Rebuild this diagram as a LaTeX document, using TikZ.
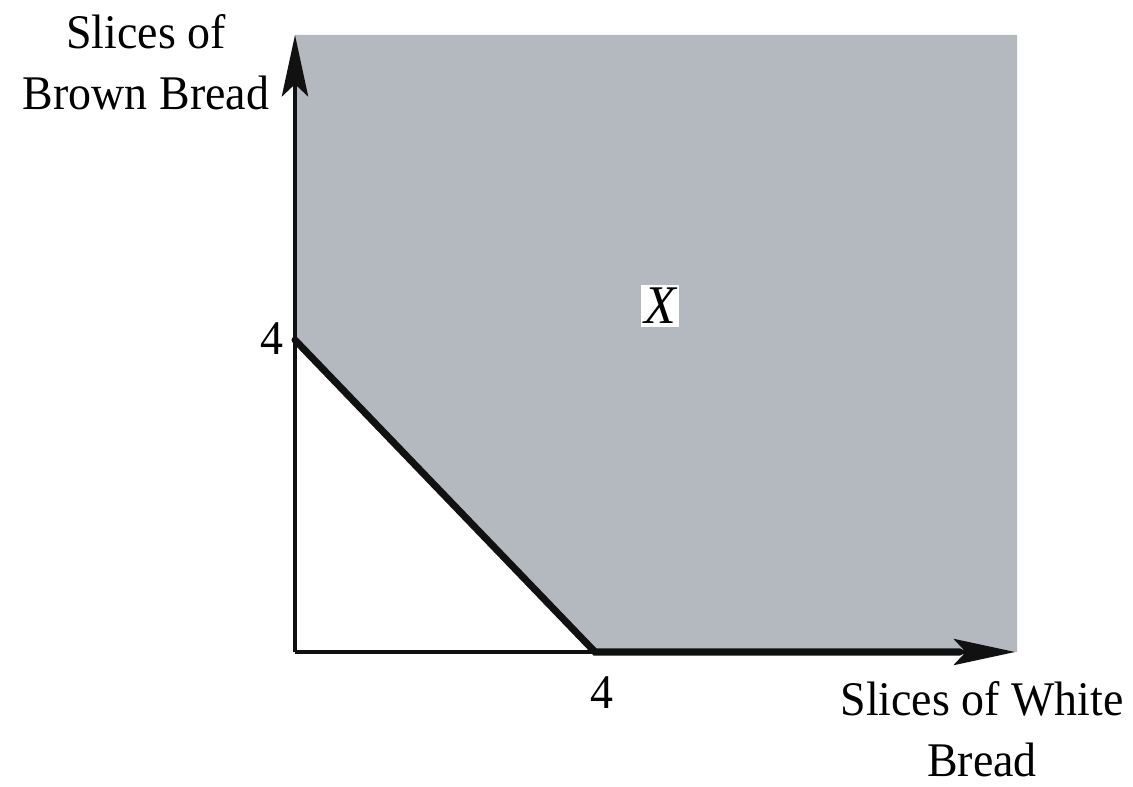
\documentclass[tikz,border=0pt]{standalone}
\usepackage{fontspec}
\setmainfont{Liberation Serif}[FakeStretch=0.95]
\usetikzlibrary{arrows.meta, positioning}
\definecolor{RegionGray}{HTML}{B4B8BF}
\definecolor{AxisBlack}{HTML}{111111}
\tikzset{
    axis/.style={
        -{Stealth[length=35pt, width=15pt, inset=7pt]},
        line width=1.8pt,
        AxisBlack
    },
    boundary/.style={
        line width=4pt,
        AxisBlack,
        line cap=round,
        line join=miter
    },
    region/.style={
        fill=RegionGray,
        draw=none
    },
    axislabel/.style={
        font=\fontsize{27.5}{35}\selectfont,
        align=center,
        inner sep=0pt
    },
    ticklabel/.style={
        font=\fontsize{27.5}{33}\selectfont,
        inner sep=0pt
    },
    regionlabel/.style={
        font=\fontsize{31}{36}\selectfont\itshape,
        fill=white,
        inner sep=2pt
    }
}
\begin{document}
\begin{tikzpicture}[x=0.02cm, y=-0.02cm]
        \useasboundingbox (0,0) rectangle (1133,787);

        % Corner points
        \coordinate (origin) at (295,652);
        \coordinate (ytip) at (295,35);
        \coordinate (xtip) at (1015,652);
        \coordinate (ycut) at (295,340);
        \coordinate (xcut) at (595,652);

        % Feasible region
        \fill[region] (ytip) -- (1017,35) -- (1017,652) -- (xcut) -- (ycut) -- cycle;

        % Axes
        \draw[axis] (origin) -- (ytip);
        \draw[axis] (origin) -- (xtip);

        % Boundary of region X
        \draw[boundary] (ycut) -- (xcut) -- (960,652);

        % Labels
        \node[axislabel] (brown) at (146,62) {Slices of\\Brown Bread};
        \node[axislabel] (white) at (982,729) {Slices of White\\Bread};
        \node[ticklabel] (fourA) at (272,339) {4};
        \node[ticklabel] (fourB) at (602,693) {4};
        \node[regionlabel] (X) at (660,306) {X};
    \end{tikzpicture}
\end{document}
